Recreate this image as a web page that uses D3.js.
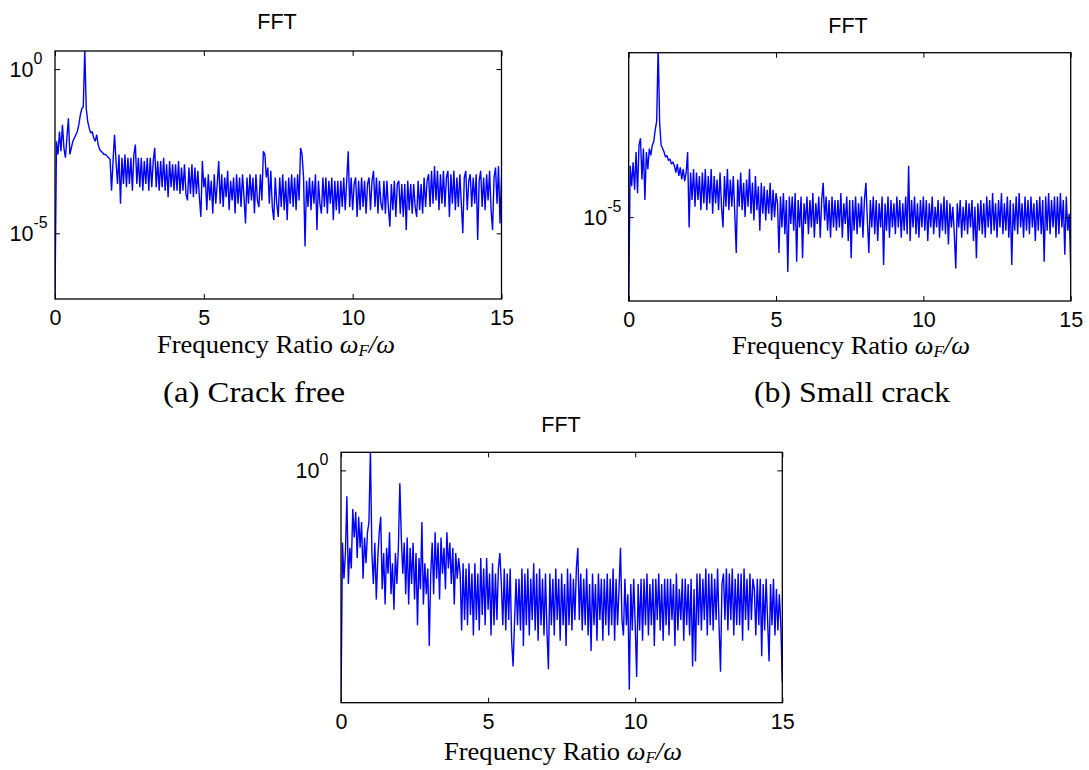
<!DOCTYPE html>
<html><head><meta charset="utf-8">
<script src="https://cdn.jsdelivr.net/npm/d3@7"></script>
<style>body{margin:0;background:#fff}svg{display:block}</style>
</head><body>
<svg id="chart" width="1089" height="770"></svg>
<script>
// ---------------- data ----------------
const freqMax = 15;                       // frequency ratio range 0..15
const xTickValues = [0, 5, 10, 15];
const panelTitles = ["FFT", "FFT", "FFT"];
const captions = ["(a) Crack free", "(b) Small crack"];
const yTickExpA = [-5, 0];
const yTickExpB = [-5];
const yTickExpC = [0];

// log10 of FFT amplitude, sampled every 0.05 in frequency ratio
const crackFreeLog = [-7.0,
-2.2,-2.6,-1.9,-2.5,-1.7,-2.4,-2.7,-2.1,-1.5,-2.6,-2.4,-2.2,
-2.1,-2.0,-1.9,-1.7,-1.4,-1.2,-1.15,
0.6,
-1.2,-1.6,-1.8,-1.95,-1.9,-2.1,-2.2,-2.0,-2.3,-2.45,
-2.5,-2.55,-2.6,-2.6,-2.65,-2.7,-2.75,-3.7,-2.8,-2.0,
-2.8,-3.5,-2.6,-4.1,-2.7,-3.5,-2.6,-3.6,-2.7,-3.5,
-2.7,-3.7,-2.6,-2.3,-3.5,-2.7,-3.6,-2.7,-3.7,-2.8,
-3.5,-2.7,-3.7,-2.7,-3.6,-2.8,-2.4,-3.6,-2.8,-3.7,
-2.8,-3.6,-2.7,-3.7,-2.9,-3.9,-2.8,-3.6,-2.9,-3.7,
-2.9,-3.7,-2.8,-3.8,-3.0,-3.7,-2.9,-3.8,-4.0,-3.0,
-3.8,-2.9,-3.9,-3.0,-3.8,-3.1,-3.9,-4.5,-2.8,-3.6,
-3.3,-4.3,-3.2,-4.0,-3.4,-4.4,-3.2,-4.1,-3.5,-2.8,
-4.1,-3.2,-4.2,-3.3,-3.9,-3.1,-4.3,-3.4,-4.0,-3.3,
-4.4,-3.2,-4.1,-3.3,-4.2,-3.2,-3.9,-4.7,-3.3,-4.1,
-3.2,-4.0,-3.3,-4.4,-3.2,-4.0,-4.2,-3.2,-4.0,-2.5,
-2.6,-3.3,-3.0,-4.1,-3.1,-4.2,-4.6,-3.3,-4.1,-4.5,
-3.3,-4.2,-3.2,-4.3,-3.4,-4.6,-3.3,-4.1,-3.2,-4.2,
-3.3,-4.3,-3.2,-4.0,-2.4,-2.6,-3.3,-5.4,-3.4,-4.2,
-3.3,-4.3,-3.4,-4.1,-3.2,-4.9,-3.4,-4.1,-4.4,-3.3,
-4.2,-3.3,-4.4,-3.4,-4.1,-3.3,-4.6,-3.4,-4.3,-3.4,
-4.4,-3.4,-4.2,-3.3,-4.3,-3.4,-2.5,-4.2,-3.3,-4.3,
-3.5,-3.3,-4.5,-3.4,-4.3,-3.3,-4.2,-3.4,-4.4,-3.5,
-3.3,-4.3,-3.4,-3.1,-4.2,-3.3,-4.4,-3.4,-4.1,-4.3,
-3.4,-4.4,-3.4,-4.2,-4.8,-3.5,-4.3,-3.4,-4.5,-3.5,
-3.4,-4.4,-3.5,-4.5,-3.5,-4.9,-3.4,-4.3,-3.5,-4.4,
-3.5,-4.2,-4.5,-3.4,-4.3,-3.5,-4.4,-3.3,-4.2,-3.4,
-3.2,-4.2,-3.1,-4.1,-2.95,-4.0,-3.1,-4.3,-3.2,-4.1,
-3.1,-4.2,-3.3,-3.1,-4.5,-3.2,-4.1,-3.1,-4.3,-3.3,
-4.2,-3.2,-4.1,-5.0,-3.3,-3.1,-4.3,-3.4,-3.2,-4.2,
-3.3,-4.1,-3.2,-5.2,-3.4,-3.1,-4.2,-3.3,-4.3,-3.2,
-4.0,-3.1,-4.3,-4.9,-3.3,-3.0,-4.1,-2.95,-4.7,-3.3];

const smallCrackLog = [-7.45,
-3.5,-4.1,-3.4,-4.2,-3.1,-4.3,-2.9,-2.7,-3.9,-3.0,-4.5,-3.1,
-3.6,-3.0,-3.2,-2.9,-2.8,-2.45,-2.2,
0.0,
-2.25,-2.9,-3.0,-3.1,-3.25,-3.2,-3.35,-3.3,-3.45,-3.4,
-3.5,-3.7,-3.45,-3.8,-3.55,-3.9,-3.6,-3.95,-3.7,-3.1,
-5.3,-3.7,-4.5,-3.6,-4.7,-3.7,-4.5,-3.8,-4.8,-3.7,
-4.6,-3.6,-4.8,-3.8,-4.6,-3.6,-4.9,-3.8,-4.6,-3.9,
-4.8,-3.7,-4.7,-5.3,-3.8,-4.7,-3.6,-4.8,-3.9,-4.7,
-3.8,-4.9,-6.05,-3.9,-4.7,-3.7,-4.8,-4.0,-5.0,-3.9,
-4.7,-3.6,-4.9,-4.0,-5.1,-3.8,-4.8,-4.1,-5.4,-4.0,
-4.9,-4.1,-5.1,-4.2,-4.9,-4.0,-5.1,-4.2,-5.0,-4.3,
-4.6,-6.05,-4.4,-5.3,-4.3,-5.5,-4.5,-6.6,-4.4,-5.2,
-4.4,-5.4,-4.3,-6.3,-4.5,-5.3,-4.4,-6.2,-4.6,-5.2,
-4.4,-5.5,-4.5,-5.3,-4.3,-5.6,-4.6,-5.2,-4.4,-5.6,
-4.5,-4.0,-5.1,-4.4,-5.4,-4.5,-5.6,-4.4,-5.3,-4.5,
-5.4,-4.5,-5.3,-4.3,-5.6,-4.6,-5.2,-4.4,-5.7,-4.5,
-6.2,-4.5,-5.4,-4.4,-5.5,-4.6,-5.3,-4.4,-5.6,-4.5,
-4.0,-5.1,-6.05,-4.5,-5.3,-4.4,-5.5,-4.5,-5.7,-4.6,
-5.3,-4.4,-6.4,-4.6,-5.4,-4.4,-5.6,-4.5,-5.3,-4.6,
-5.5,-4.4,-5.3,-4.5,-5.6,-4.6,-5.4,-4.4,-5.5,-3.5,
-5.7,-4.5,-5.3,-4.4,-5.5,-4.6,-5.6,-4.5,-5.3,-4.4,
-5.4,-4.5,-5.7,-4.6,-5.3,-4.4,-5.5,-4.7,-5.3,-4.5,
-5.6,-4.6,-5.4,-4.4,-5.5,-4.5,-5.8,-4.6,-5.3,-4.7,
-5.5,-6.5,-4.6,-5.3,-4.5,-5.6,-4.7,-5.4,-4.5,-5.5,
-4.6,-5.3,-4.5,-5.7,-4.7,-6.2,-4.6,-5.4,-4.5,-5.5,
-4.6,-5.6,-4.4,-5.3,-4.5,-5.5,-4.3,-5.4,-4.6,-5.6,
-4.5,-5.3,-4.3,-5.5,-4.6,-5.4,-4.4,-5.6,-4.5,-6.4,
-4.6,-5.4,-4.4,-5.5,-4.3,-5.3,-4.6,-5.6,-4.4,-5.4,
-4.5,-5.5,-4.4,-5.3,-4.6,-5.7,-4.5,-5.4,-4.4,-5.5,
-4.5,-6.3,-4.4,-5.4,-4.3,-5.5,-4.5,-5.3,-4.4,-5.6,
-4.4,-5.5,-4.3,-5.3,-4.5,-6.1,-4.4,-5.4,-4.9,-6.5];

const largeCrackLog = [-4.5,
-1.4,-2.1,-1.6,-0.5,-2.2,-1.5,-1.9,-0.75,-1.3,-0.8,-1.7,-0.9,-1.5,-1.0,-2.1,-1.3,-1.8,-1.2,-1.0,
0.4,
-1.6,-2.2,-1.4,-2.5,-1.7,-1.2,-0.9,-2.3,-1.6,-2.6,-1.5,-2.0,-1.2,-2.4,-1.8,-2.7,-1.6,-2.2,-1.5,-0.25,
-1.3,-2.0,-1.4,-2.4,-1.3,-2.6,-1.5,-2.2,-1.4,-2.5,-1.6,-3.0,-1.7,-2.3,-1.0,-2.6,-1.8,-2.4,-1.9,-3.4,
-2.0,-1.4,-2.4,-1.2,-2.1,-1.4,-2.5,-1.3,-2.0,-1.5,-2.3,-1.2,-1.9,-1.4,-2.2,-1.5,-2.6,-1.6,-2.1,-1.7,
-2.0,-3.1,-1.8,-2.9,-1.9,-3.0,-1.8,-2.8,-2.0,-3.2,-1.8,-2.9,-2.0,-3.1,-1.7,-2.8,-1.9,-3.0,-1.7,-2.7,
-2.0,-3.2,-1.8,-3.0,-2.0,-2.9,-1.9,-1.6,-2.2,-3.0,-1.9,-3.1,-2.0,-2.9,-1.9,-3.3,-3.8,-2.9,-2.1,-3.0,
-2.1,-3.1,-1.9,-3.4,-2.0,-3.0,-1.9,-3.2,-2.1,-2.9,-1.8,-3.1,-2.0,-3.3,-1.9,-3.0,-2.1,-3.2,-2.0,-3.1,
-3.85,-2.0,-3.0,-2.1,-3.2,-1.9,-2.9,-2.1,-3.3,-2.0,-3.0,-2.2,-3.4,-1.9,-3.0,-2.0,-3.1,-2.1,-2.9,-1.9,
-1.5,-2.9,-2.0,-3.1,-2.1,-3.0,-1.9,-3.2,-2.2,-3.5,-2.0,-3.0,-2.2,-3.3,-2.0,-2.9,-2.1,-3.3,-2.1,-3.0,
-2.0,-3.2,-2.1,-3.0,-1.9,-3.3,-2.1,-3.0,-2.3,-1.5,-2.9,-3.2,-2.1,-3.0,-2.4,-4.25,-2.2,-3.1,-2.1,-3.0,
-4.0,-2.2,-3.1,-2.1,-3.3,-2.1,-3.0,-2.0,-3.2,-2.2,-3.0,-2.1,-3.4,-2.1,-2.9,-2.0,-3.1,-2.2,-3.3,-2.1,
-3.0,-2.1,-3.2,-2.1,-2.9,-2.2,-3.4,-2.0,-3.1,-2.3,-2.9,-2.1,-3.3,-2.1,-3.0,-2.2,-3.2,-2.1,-3.8,-2.3,
-3.7,-2.0,-3.0,-2.0,-3.1,-2.1,-2.9,-1.9,-3.2,-2.0,-3.0,-2.0,-3.1,-2.1,-2.9,-1.9,-3.0,-3.9,-2.2,-2.0,
-2.9,-1.9,-3.1,-2.0,-2.9,-1.9,-3.2,-2.1,-3.0,-2.0,-3.0,-2.0,-3.3,-1.9,-2.9,-2.1,-3.1,-2.0,-2.9,-2.1,
-2.3,-3.2,-2.1,-3.0,-2.1,-3.6,-2.2,-3.1,-2.1,-2.9,-3.7,-2.2,-3.0,-2.1,-3.2,-2.3,-3.1,-2.4,-3.0,-4.1];

// ---------------- drawing ----------------
const svg = d3.select("#chart");
const SANS = "Arial, 'Liberation Sans', Helvetica, sans-serif";
const SERIF = "'Times New Roman', 'Liberation Serif', serif";

const panels = [
  {id:"a", data:crackFreeLog, left:55, right:501.5, top:51, bottom:299, yMin:-7.0, yMax:0.55,
   yTicks:yTickExpA, title:panelTitles[0], titleX:277, titleY:29, labelX:276, labelY:353, caption:captions[0], capX:254, capY:402, capW:182},
  {id:"b", data:smallCrackLog, left:628.7, right:1070.7, top:52.7, bottom:301, yMin:-7.45, yMax:-0.2,
   yTicks:yTickExpB, title:panelTitles[1], titleX:848, titleY:33, labelX:851, labelY:354, caption:captions[1], capX:852, capY:402, capW:196},
  {id:"c", data:largeCrackLog, left:341, right:782.3, top:452.3, bottom:702.7, yMin:-4.5, yMax:0.35,
   yTicks:yTickExpC, title:panelTitles[2], titleX:561, titleY:432, labelX:563, labelY:760, caption:null}
];

panels.forEach(p => {
  const g = svg.append("g");
  const x = d3.scaleLinear().domain([0, freqMax]).range([p.left, p.right]);
  const y = d3.scaleLog().domain([Math.pow(10, p.yMin), Math.pow(10, p.yMax)]).range([p.bottom, p.top]);
  const n = p.data.length;
  const pts = p.data.map((v, i) => ({f: i * freqMax / (n - 1), a: Math.pow(10, v)}));

  g.append("clipPath").attr("id", "clip-" + p.id)
    .append("rect").attr("x", p.left).attr("y", p.top)
    .attr("width", p.right - p.left).attr("height", p.bottom - p.top);

  g.append("rect").attr("x", p.left).attr("y", p.top)
    .attr("width", p.right - p.left).attr("height", p.bottom - p.top)
    .attr("fill", "#fff");

  const line = d3.line().x(d => x(d.f)).y(d => y(d.a));
  g.append("path").datum(pts)
    .attr("clip-path", `url(#clip-${p.id})`)
    .attr("d", line).attr("fill", "none")
    .attr("stroke", "#0000ff").attr("stroke-width", 1.4)
    .attr("stroke-linejoin", "miter").attr("stroke-miterlimit", 2);

  // axes with inward ticks
  const styleAxis = sel => { sel.select(".domain").remove();
    sel.selectAll(".tick line").attr("stroke", "#000").attr("stroke-width", 1); };

  const bottomAx = g.append("g").attr("transform", `translate(0,${p.bottom})`)
    .call(d3.axisBottom(x).tickValues(xTickValues).tickSize(-5).tickPadding(11).tickFormat(d3.format("d")))
    .call(styleAxis);
  bottomAx.selectAll("text").attr("font-family", SANS).attr("font-size", 21.5).attr("fill", "#000");

  g.append("g").attr("transform", `translate(0,${p.top})`)
    .call(d3.axisTop(x).tickValues(xTickValues).tickSize(-5).tickFormat(""))
    .call(styleAxis);

  const yTickVals = p.yTicks.map(e => Math.pow(10, e));
  g.append("g").attr("transform", `translate(${p.left},0)`)
    .call(d3.axisLeft(y).tickValues(yTickVals).tickSize(-5).tickFormat(""))
    .call(styleAxis);
  g.append("g").attr("transform", `translate(${p.right},0)`)
    .call(d3.axisRight(y).tickValues(yTickVals).tickSize(-5).tickFormat(""))
    .call(styleAxis);

  // y tick labels 10^k
  p.yTicks.forEach(e => {
    const t = g.append("text")
      .attr("x", p.left - 45.4).attr("y", y(Math.pow(10, e)) + 7.5)
      .attr("font-family", SANS).attr("font-size", 21.5).attr("fill", "#000");
    t.append("tspan").text("10");
    t.append("tspan").attr("dy", -13).attr("font-size", 16).text(String(e));
  });

  // frame
  g.append("rect").attr("x", p.left).attr("y", p.top)
    .attr("width", p.right - p.left).attr("height", p.bottom - p.top)
    .attr("fill", "none").attr("stroke", "#000").attr("stroke-width", 1.3);

  // title
  g.append("text").attr("x", p.titleX).attr("y", p.titleY)
    .attr("text-anchor", "middle").attr("font-family", SANS).attr("font-size", 21.5)
    .attr("fill", "#000").text(p.title);

  // x-axis label
  const xl = g.append("text").attr("x", p.labelX).attr("y", p.labelY)
    .attr("text-anchor", "middle").attr("font-family", SERIF).attr("font-size", 25)
    .attr("textLength", 238).attr("lengthAdjust", "spacingAndGlyphs").attr("fill", "#000");
  xl.append("tspan").text("Frequency Ratio ");
  xl.append("tspan").attr("font-style", "italic").text("ω");
  xl.append("tspan").attr("font-style", "italic").attr("font-size", 16).attr("dy", 3).text("F");
  xl.append("tspan").attr("font-style", "italic").attr("dy", -3).text("/ω");

  if (p.caption) {
    g.append("text").attr("x", p.capX).attr("y", p.capY)
      .attr("text-anchor", "middle").attr("font-family", SERIF).attr("font-size", 29)
      .attr("textLength", p.capW).attr("lengthAdjust", "spacingAndGlyphs")
      .attr("fill", "#000").text(p.caption);
  }
});
</script>
</body></html>
